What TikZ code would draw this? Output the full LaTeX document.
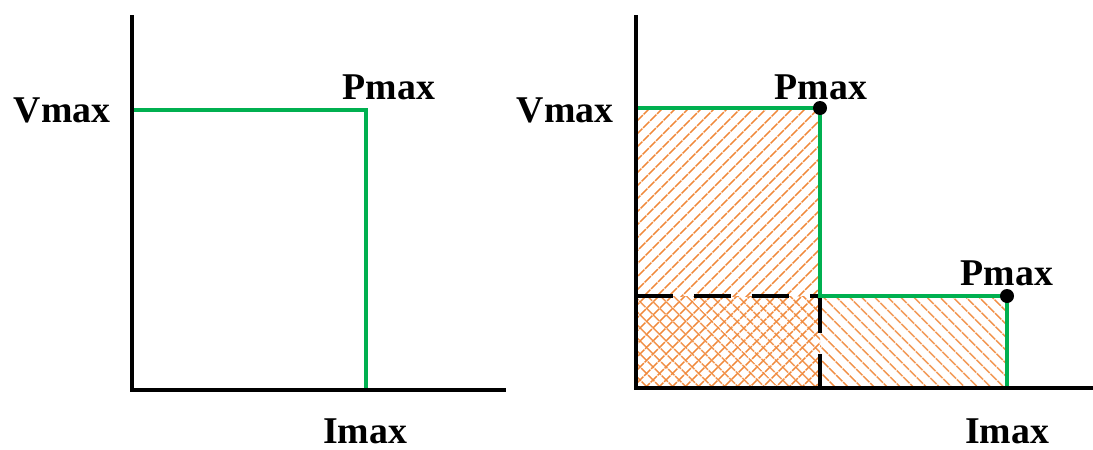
\documentclass[tikz,border=0pt]{standalone}
\usepackage{fontspec}
\setmainfont{Liberation Serif}
\usetikzlibrary{patterns.meta}
\definecolor{limitgreen}{HTML}{00B050}
\definecolor{hatch}{HTML}{F0883A}

\begin{document}
\begin{tikzpicture}[x=0.02cm, y=-0.02cm,
  axis/.style={line width=2.3pt},
  limit/.style={limitgreen, line width=2.3pt},
  split/.style={line width=2.3pt, dash pattern=on 21pt off 12pt},
  lbl/.style={font=\fontsize{21.5}{24}\selectfont\bfseries, inner sep=0pt},
  hatchup/.style={pattern={Lines[angle=45, distance=5.4pt, line width=0.9pt]}, pattern color=hatch},
  hatchdown/.style={pattern={Lines[angle=-45, distance=5.4pt, line width=0.9pt]}, pattern color=hatch},
]
  \useasboundingbox (0,0) rectangle (1093,450);

  % left panel
  \coordinate (o1) at (132,390);
  \coordinate (ytop1) at (132,15);
  \coordinate (xend1) at (506,390);
  \coordinate (v1) at (132,110);
  \coordinate (p1) at (366,110);
  \coordinate (i1) at (366,390);
  \node[lbl] (vmax1) at (62,110) {Vmax};
  \node[lbl] (pmax1) at (389,87) {Pmax};
  \node[lbl] (imax1) at (365,431) {Imax};

  \draw[limit, line join=miter] (v1) -- (p1) -- (i1);
  \draw[axis] (ytop1) -- (o1) -- (xend1);

  % right panel
  \coordinate (o2) at (636,388);
  \coordinate (ytop2) at (636,15);
  \coordinate (xend2) at (1093,388);
  \coordinate (v2) at (636,108);
  \coordinate (pa) at (820,108);
  \coordinate (knee) at (820,296);
  \coordinate (vb) at (636,296);
  \coordinate (ia) at (820,388);
  \coordinate (pb) at (1007,296);
  \coordinate (ib) at (1007,388);
  \node[lbl] (vmax2) at (565,110) {Vmax};
  \node[lbl] (pmaxa) at (821,87) {Pmax};
  \node[lbl] (pmaxb) at (1007,273) {Pmax};
  \node[lbl] (imax2) at (1007,431) {Imax};

  \fill[hatchup] (v2) rectangle (knee);
  \fill[hatchup] (vb) rectangle (ia);
  \fill[hatchdown] (vb) rectangle (ia);
  \fill[hatchdown] (knee) rectangle (ib);

  \draw[split] (vb) -- (knee);
  \draw[split] (knee) -- (ia);

  \draw[limit, line join=miter] (v2) -- (pa) -- (knee) -- (pb) -- (ib);
  \fill (pa) circle (7);
  \fill (pb) circle (7);
  \draw[axis] (ytop2) -- (o2) -- (xend2);
\end{tikzpicture}
\end{document}
